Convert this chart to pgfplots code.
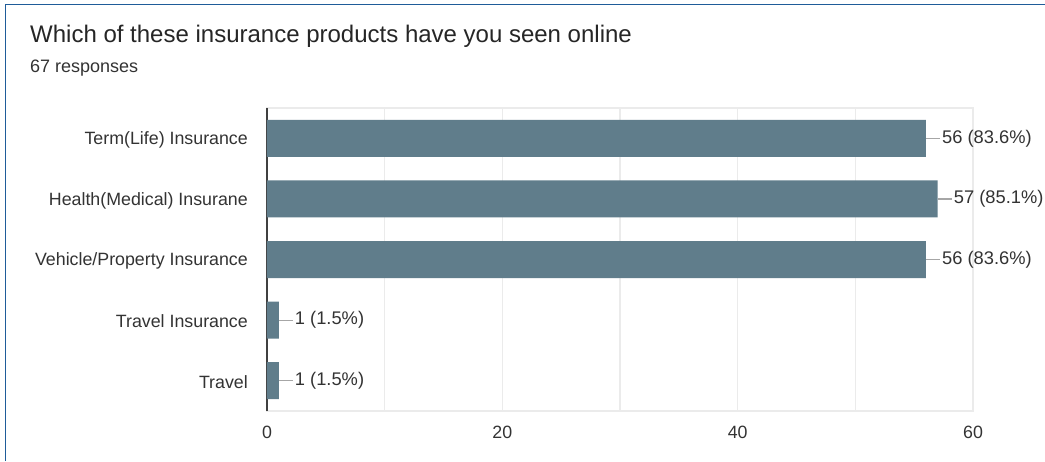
\documentclass[border=0pt]{standalone}
\usepackage{pgfplots}
\pgfplotsset{compat=1.18}
\usepackage{fontspec}
\setmainfont{Liberation Sans}
\definecolor{barc}{HTML}{607D8B}
\definecolor{txt}{HTML}{333333}
\definecolor{gridc}{HTML}{EBEBEB}
\definecolor{framec}{HTML}{1F5C99}
\begin{document}
\begin{tikzpicture}[x=1pt,y=1pt]
\path[use as bounding box, fill=white] (0,0) rectangle (1045,461);
\draw[framec, line width=1.5pt] (5.5,0) -- (5.5,456.5) -- (1045,456.5);
\node[anchor=west, inner sep=0, font=\fontsize{24}{28}\selectfont, text=black!85] at (30,424.5) {Which of these insurance products have you seen online};
\node[anchor=west, inner sep=0, font=\fontsize{18}{21}\selectfont, text=txt] at (30,392.5) {67 responses};
\begin{axis}[at={(267pt,50pt)}, anchor=south west, scale only axis,
  width=706pt, height=303pt,
  xbar, bar width=37pt,
  xmin=0, xmax=60, ymin=-0.5, ymax=4.5, y dir=reverse,
  xtick={0,20,40,60}, minor xtick={10,30,50},
  xmajorgrids, xminorgrids,
  major grid style={gridc, line width=1.2pt},
  minor grid style={gridc, line width=1.2pt},
  axis line style={gridc, line width=1.2pt},
  ytick={0,1,2,3,4},
  yticklabels={Term(Life) Insurance, Health(Medical) Insurane, Vehicle/Property Insurance, Travel Insurance, Travel},
  major tick length=0pt, minor tick length=0pt,
  /pgf/number format/assume math mode=true,
  tick label style={font=\fontsize{17.8}{21}\selectfont, text=txt},
  yticklabel style={inner sep=0pt, xshift=-19pt, yshift=-1.5pt},
  xticklabel style={inner sep=0pt, yshift=-15pt},
  extra x ticks={0}, extra x tick labels={},
  extra x tick style={grid=major, major grid style={black!75, line width=1.8pt}},
  clip=false,
  point meta=explicit symbolic,
  nodes near coords={\textcolor{black!35}{\rule[0.22em]{14pt}{1.2pt}}\hspace{2pt}\pgfplotspointmeta},
  nodes near coords style={anchor=west, inner sep=0pt, font=\fontsize{18.3}{21}\selectfont, text=txt},
]
\addplot[fill=barc, draw=none] coordinates {
  (56,0) [56 (83.6\%)]
  (57,1) [57 (85.1\%)]
  (56,2) [56 (83.6\%)]
  (1,3) [1 (1.5\%)]
  (1,4) [1 (1.5\%)]
};
\end{axis}
\end{tikzpicture}
\end{document}
